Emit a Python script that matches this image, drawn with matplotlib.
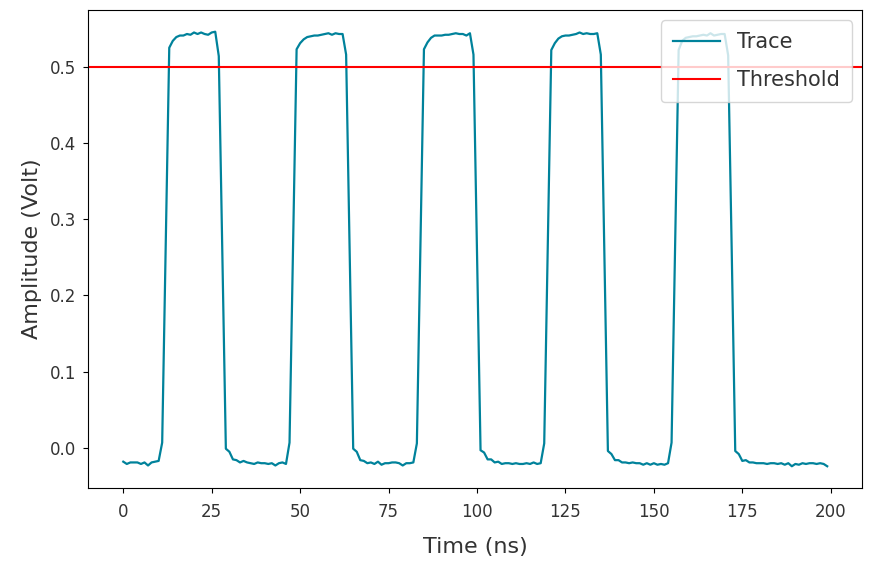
import numpy as np
import matplotlib
matplotlib.use('Agg')
import matplotlib.pyplot as plt

plt.rcParams['font.family'] = ['DejaVu Sans']
plt.rcParams['text.color'] = '#333333'
plt.rcParams['axes.labelcolor'] = '#333333'
plt.rcParams['xtick.labelcolor'] = '#333333'
plt.rcParams['ytick.labelcolor'] = '#333333'

# time axis in ns, one sample per ns
time_ns = np.arange(0, 200)

# amplitude (Volt)
baseline0 = [-0.018, -0.021, -0.019, -0.019, -0.019, -0.021, -0.019, -0.023, -0.019, -0.018, -0.017]
pulse1 = [0.007, 0.265, 0.525, 0.534, 0.539, 0.541, 0.541, 0.543, 0.542, 0.545, 0.543, 0.545, 0.543, 0.542, 0.545, 0.546, 0.514, 0.255]
baseline1 = [-0.001, -0.005, -0.015, -0.016, -0.019, -0.017, -0.019, -0.020, -0.021, -0.019, -0.020, -0.020, -0.021, -0.020, -0.023, -0.020, -0.019, -0.021]
pulse2 = [0.007, 0.265, 0.523, 0.531, 0.536, 0.539, 0.540, 0.541, 0.541, 0.542, 0.543, 0.544, 0.542, 0.544, 0.543, 0.543, 0.516, 0.255]
baseline2 = [-0.001, -0.005, -0.016, -0.017, -0.020, -0.019, -0.021, -0.018, -0.022, -0.020, -0.020, -0.019, -0.019, -0.020, -0.023, -0.020, -0.020, -0.019]
pulse3 = [0.006, 0.265, 0.523, 0.532, 0.538, 0.541, 0.541, 0.541, 0.542, 0.542, 0.543, 0.544, 0.543, 0.543, 0.541, 0.544, 0.516, 0.255]
baseline3 = [-0.003, -0.006, -0.015, -0.015, -0.019, -0.018, -0.021, -0.020, -0.020, -0.021, -0.020, -0.021, -0.021, -0.020, -0.021, -0.019, -0.021, -0.020]
pulse4 = [0.006, 0.265, 0.522, 0.531, 0.537, 0.540, 0.541, 0.541, 0.542, 0.543, 0.545, 0.543, 0.544, 0.543, 0.543, 0.544, 0.516, 0.26]
baseline4 = [-0.004, -0.008, -0.016, -0.016, -0.019, -0.019, -0.020, -0.019, -0.020, -0.020, -0.022, -0.020, -0.022, -0.020, -0.022, -0.021, -0.022, -0.020]
pulse5 = [0.007, 0.265, 0.522, 0.534, 0.538, 0.539, 0.540, 0.540, 0.541, 0.542, 0.541, 0.544, 0.541, 0.542, 0.543, 0.543, 0.515, 0.26]
baseline5 = [-0.004, -0.008, -0.017, -0.016, -0.019, -0.019, -0.020, -0.020, -0.020, -0.021, -0.020, -0.020, -0.021, -0.020, -0.022, -0.020, -0.024, -0.021, -0.022, -0.020, -0.021, -0.020, -0.020, -0.021, -0.020, -0.021, -0.024]

amplitude = (baseline0 + pulse1 + baseline1 + pulse2 + baseline2 + pulse3
             + baseline3 + pulse4 + baseline4 + pulse5 + baseline5)

threshold = 0.5

fig = plt.figure(figsize=(8.72, 5.71), dpi=100)
ax = fig.add_axes([0.101, 0.1454, 0.888, 0.8371])

ax.plot(time_ns, amplitude, color='#00829b', linewidth=1.6, label='Trace')
ax.axhline(threshold, color='red', linewidth=1.5, label='Threshold')

ax.set_xlabel('Time (ns)', fontsize=16, labelpad=12)
ax.set_ylabel('Amplitude (Volt)', fontsize=16, labelpad=6)
ax.tick_params(axis='both', labelsize=12)
ax.tick_params(axis='x', pad=7)
ax.tick_params(axis='y', pad=5)
ax.legend(loc='upper right', fontsize=15, labelspacing=0.88, handlelength=2.25,
          handletextpad=0.85, borderpad=0.56)

fig.savefig('out.png', dpi=100)
